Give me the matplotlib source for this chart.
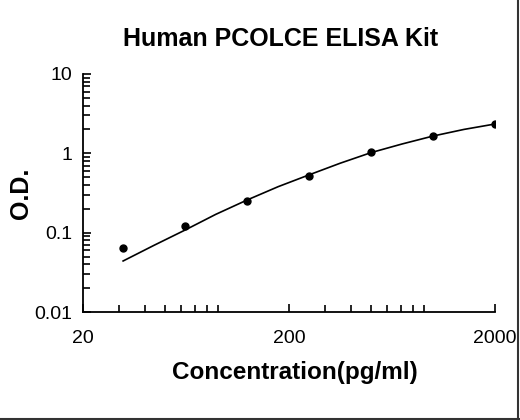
import numpy as np
import matplotlib
matplotlib.use("Agg")
import matplotlib.pyplot as plt
from matplotlib.ticker import FixedLocator, FixedFormatter, LogLocator, NullFormatter
from matplotlib.lines import Line2D

# standard points (pg/ml) and measured O.D.
conc = [31.25, 62.5, 125, 250, 500, 1000, 2000]
od = [0.065, 0.122, 0.253, 0.517, 1.04, 1.64, 2.34]

# fitted curve
curve_conc = [31.25, 44, 62.5, 88, 125, 177, 250, 354, 500, 707, 1000, 1414, 2000]
curve_od = [0.044, 0.069, 0.108, 0.17, 0.258, 0.38, 0.535, 0.75, 1.02, 1.31, 1.65, 2.0, 2.34]

x_ticks = [20, 200, 2000]
x_labels = ["20", "200", "2000"]
y_ticks = [0.01, 0.1, 1, 10]
y_labels = ["0.01", "0.1", "1", "10"]

plt.rcParams['font.family'] = ['Liberation Sans', 'DejaVu Sans']

fig = plt.figure(figsize=(5.2, 4.2), dpi=100)
ax = fig.add_axes([0.16, 0.257, 0.792, 0.567])

ax.plot(curve_conc, curve_od, color="black", lw=1.2)
ax.plot(conc, od, "o", color="black", markersize=5)

ax.set_xscale("log")
ax.set_yscale("log")
ax.set_xlim(20, 2000)
ax.set_ylim(0.01, 10)

ax.xaxis.set_major_locator(FixedLocator(x_ticks))
ax.xaxis.set_major_formatter(FixedFormatter(x_labels))
ax.yaxis.set_major_locator(FixedLocator(y_ticks))
ax.yaxis.set_major_formatter(FixedFormatter(y_labels))
ax.xaxis.set_minor_locator(LogLocator(base=10, subs=np.arange(2, 10)))
ax.yaxis.set_minor_locator(LogLocator(base=10, subs=np.arange(2, 10)))
ax.xaxis.set_minor_formatter(NullFormatter())
ax.yaxis.set_minor_formatter(NullFormatter())

ax.tick_params(which="both", direction="in", width=1.2, labelsize=14)
ax.tick_params(axis="x", pad=13)
ax.tick_params(axis="y", pad=8)
ax.tick_params(which="major", length=6)
ax.tick_params(which="minor", length=5)

for s in ["top", "right"]:
    ax.spines[s].set_visible(False)
for s in ["left", "bottom"]:
    ax.spines[s].set_linewidth(1.3)

ax.set_title("Human PCOLCE ELISA Kit", fontsize=18, fontweight="bold", pad=20, x=0.48)
ax.set_xlabel("Concentration(pg/ml)", fontsize=17.5, fontweight="bold")
ax.xaxis.set_label_coords(0.514, -0.205)
ax.set_ylabel("O.D.", fontsize=18, fontweight="bold")
ax.yaxis.set_label_coords(-0.122, 0.5)

# thin frame at the right and bottom edges of the image
fig.add_artist(Line2D([0.997, 0.997], [0, 1], transform=fig.transFigure, color="#333333", lw=1.5))
fig.add_artist(Line2D([0, 1], [0.002, 0.002], transform=fig.transFigure, color="#333333", lw=1.5))

fig.savefig("out.png", dpi=100)
